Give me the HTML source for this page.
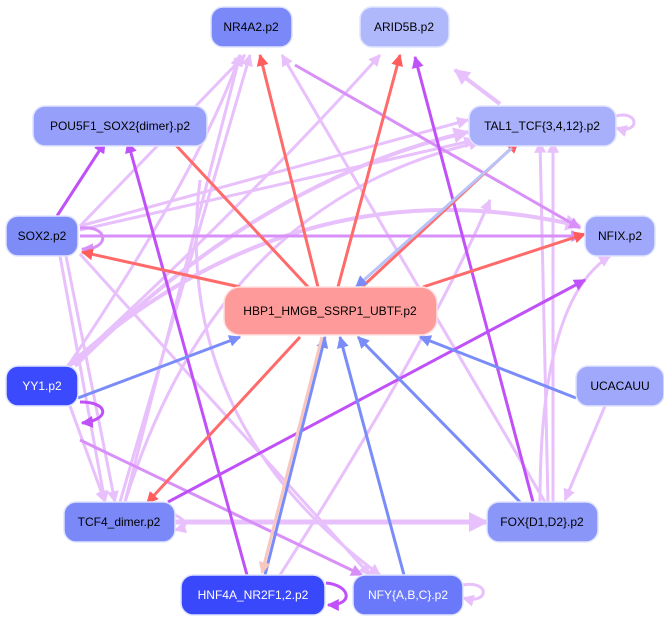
<!DOCTYPE html>
<html><head><meta charset="utf-8"><style>
html,body{margin:0;padding:0;background:#fff;}
svg{display:block;}
text{font-family:"Liberation Sans",sans-serif;font-size:12px;text-anchor:middle;dominant-baseline:central;}
</style></head><body>
<svg width="664" height="629" viewBox="0 0 664 629" xmlns="http://www.w3.org/2000/svg">
<defs>
<marker id="mR" viewBox="0 0 10 10" refX="9" refY="5" markerWidth="4" markerHeight="4" orient="auto"><path d="M0,0L10,5L0,10z" fill="#ff5c5c"/></marker>
<marker id="mB" viewBox="0 0 10 10" refX="9" refY="5" markerWidth="4" markerHeight="4" orient="auto"><path d="M0,0L10,5L0,10z" fill="#7a8cf8"/></marker>
<marker id="mP" viewBox="0 0 10 10" refX="9" refY="5" markerWidth="4" markerHeight="4" orient="auto"><path d="M0,0L10,5L0,10z" fill="#c050f8"/></marker>
<marker id="mM" viewBox="0 0 10 10" refX="9" refY="5" markerWidth="4" markerHeight="4" orient="auto"><path d="M0,0L10,5L0,10z" fill="#d890f8"/></marker>
<marker id="mL" viewBox="0 0 10 10" refX="9" refY="5" markerWidth="4" markerHeight="4" orient="auto"><path d="M0,0L10,5L0,10z" fill="#e8c0fc"/></marker>
<marker id="mK" viewBox="0 0 10 10" refX="9" refY="5" markerWidth="4" markerHeight="4" orient="auto"><path d="M0,0L10,5L0,10z" fill="#f8c8c0"/></marker>
</defs>
<g fill="none" stroke-width="3">
<g stroke="#e8c0fc" marker-end="url(#mL)">
<path d="M80,226 L245,55"/>
<path d="M80,226 L468,120"/>
<path d="M80,230 L475,140"/>
<path d="M60,256 L105,502"/>
<path d="M66,256 L115,502"/>
<path d="M80,254 L370,575"/>
<path d="M70,406 L105,502"/>
<path d="M68,366 Q300,160 580,226" stroke-width="4"/>
<path d="M68,366 Q200,170 240,55"/>
<path d="M75,366 Q260,180 468,132" stroke-width="4"/>
<path d="M70,366 Q250,200 380,55"/>
<path d="M120,502 L250,55"/>
<path d="M125,502 L240,55"/>
<path d="M125,502 Q220,200 480,142"/>
<path d="M200,180 Q170,420 380,575"/>
<path d="M548,502 L540,142"/>
<path d="M553,502 L553,142"/>
<path d="M545,502 L282,55"/>
<path d="M540,502 Q540,300 610,256"/>
<path d="M605,406 L565,500"/>
<path d="M280,575 Q430,340 490,200"/>
<path d="M500,104 L455,70" stroke-width="4"/>
<path d="M175,522 L487,522" stroke-width="5"/>
<path d="M175,515 Q195,525 175,530"/>
</g>
<path d="M616,116 C640,110 640,135 616,128" stroke="#e8c0fc" marker-end="url(#mL)"/>
<path d="M463,585 C490,580 490,605 463,598" stroke="#e8c0fc" marker-end="url(#mL)"/>
<g stroke="#d890f8" marker-end="url(#mM)">
<path d="M295,65 L580,228"/>
<path d="M80,236 L582,236"/>
<path d="M80,440 L362,575"/>
<path d="M80,228 C110,225 110,250 82,249"/>
</g>
<g stroke="#c050f8" marker-end="url(#mP)">
<path d="M57,216 L105,142"/>
<path d="M247,575 L128,142"/>
<path d="M533,502 L415,57"/>
<path d="M168,502 L585,280"/>
<path d="M80,402 C110,402 110,420 82,423"/>
<path d="M326,583 C350,585 355,605 328,605"/>
</g>
<g stroke="#ff6a6a" marker-end="url(#mR)">
<path d="M318,287 L260,55"/>
<path d="M338,287 L400,55"/>
<path d="M308,287 L145,112"/>
<path d="M240,287 L82,252"/>
<path d="M423,287 L585,234"/>
<path d="M300,337 L147,503"/>
<path d="M362,287 L518,142"/>
</g>
<path d="M512,148 L356,287" stroke="#b8c4f8" stroke-width="3" marker-end="url(#mB)"/>
<g stroke="#7a8cf8" marker-end="url(#mB)">
<path d="M78,398 L240,337"/>
<path d="M520,502 L358,337"/>
<path d="M576,398 L420,337"/>
<path d="M404,575 L340,337"/>
<path d="M265,575 L325,337"/>
</g>
<path d="M322,337 L262,573" stroke="#f8c8c0" marker-end="url(#mK)"/>
</g>
<g stroke="#e0e4ff" stroke-width="1.5">
<rect x="211" y="7" width="81" height="40" rx="12" fill="#7a88f8"/>
<rect x="360" y="7" width="89" height="40" rx="12" fill="#b0b8fc"/>
<rect x="33" y="106" width="174" height="40" rx="12" fill="#96a0fa"/>
<rect x="469" y="106" width="147" height="40" rx="12" fill="#a8b0fc"/>
<rect x="6" y="216" width="72" height="40" rx="12" fill="#7e8cf8"/>
<rect x="585" y="216" width="70" height="40" rx="12" fill="#a0a8fc"/>
<rect x="224" y="287" width="213" height="48" rx="16" fill="#ff9a9a" stroke="#ffe0e0"/>
<rect x="6" y="366" width="72" height="40" rx="12" fill="#3a4afc"/>
<rect x="576" y="366" width="88" height="40" rx="12" fill="#a0a8fc"/>
<rect x="64" y="502" width="111" height="40" rx="12" fill="#7a88f8"/>
<rect x="487" y="502" width="111" height="40" rx="12" fill="#8a96f8"/>
<rect x="181" y="575" width="144" height="40" rx="12" fill="#3a48fc"/>
<rect x="353" y="575" width="110" height="40" rx="12" fill="#6a78fa"/>
</g>
<g fill="#000">
<text x="251" y="27">NR4A2.p2</text>
<text x="404" y="27">ARID5B.p2</text>
<text x="120" y="126">POU5F1_SOX2{dimer}.p2</text>
<text x="542" y="126">TAL1_TCF{3,4,12}.p2</text>
<text x="42" y="236">SOX2.p2</text>
<text x="620" y="236">NFIX.p2</text>
<text x="330" y="311">HBP1_HMGB_SSRP1_UBTF.p2</text>
<text x="42" y="386" fill="#fff">YY1.p2</text>
<text x="620" y="386">UCACAUU</text>
<text x="119" y="522">TCF4_dimer.p2</text>
<text x="542" y="522">FOX{D1,D2}.p2</text>
<text x="253" y="595" fill="#fff">HNF4A_NR2F1,2.p2</text>
<text x="408" y="595" fill="#fff">NFY{A,B,C}.p2</text>
</g>
</svg>
</body></html>
